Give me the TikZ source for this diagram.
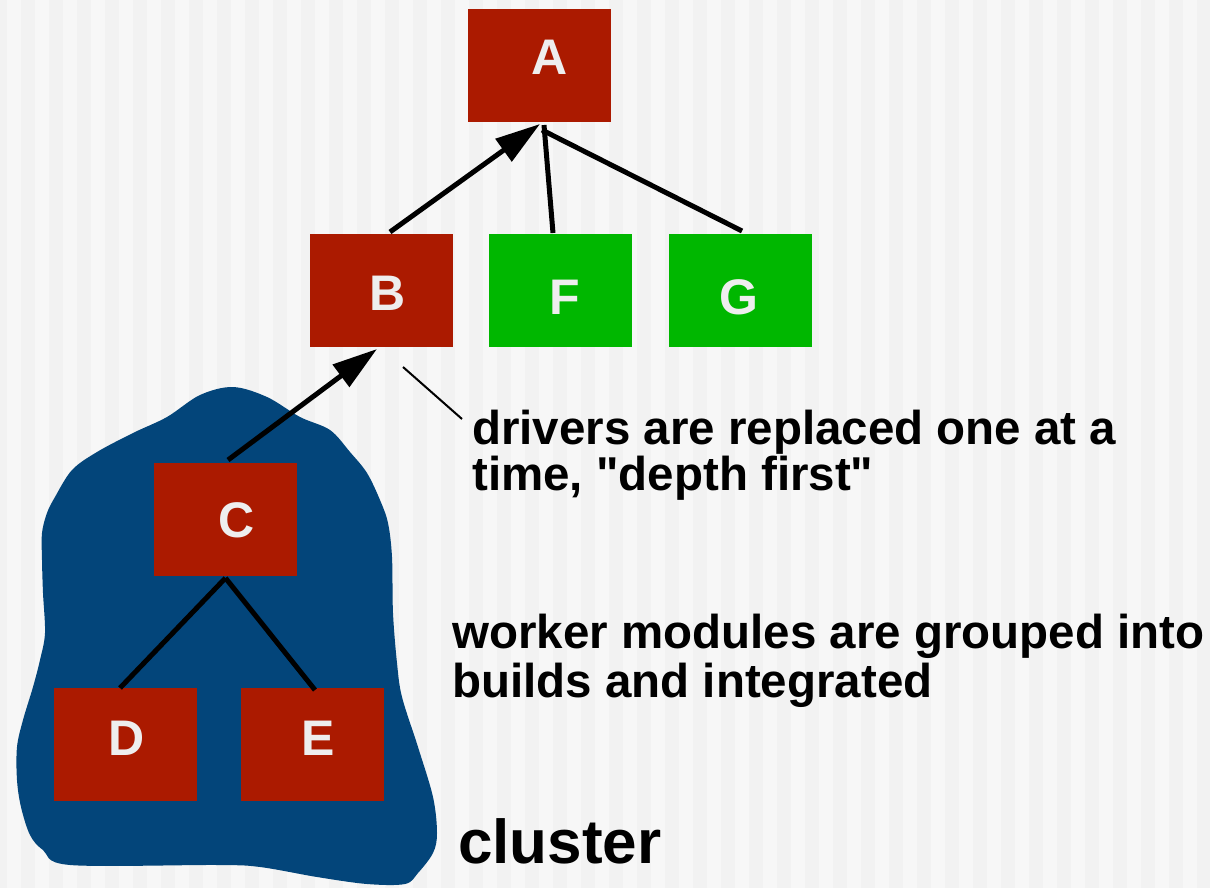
\documentclass[tikz,border=0pt]{standalone}
\usepackage{fontspec}
\setmainfont{Liberation Sans}
\usetikzlibrary{arrows.meta,calc}
\definecolor{boxred}{HTML}{AB1A00}
\definecolor{boxgreen}{HTML}{00B700}
\definecolor{blobblue}{HTML}{03457A}
\definecolor{stripeA}{HTML}{F2F2F2}
\definecolor{stripeB}{HTML}{F7F7F7}
\definecolor{labelwhite}{HTML}{EEEEEE}
\tikzset{
  modbox/.style={minimum width=143pt,minimum height=113pt,inner sep=0pt,outer sep=0pt},
  redbox/.style={modbox,fill=boxred},
  greenbox/.style={modbox,fill=boxgreen},
  boxlabel/.style={text=labelwhite,font=\bfseries\fontsize{50}{50}\selectfont,inner sep=0pt,anchor=center},
  link/.style={line width=5pt,draw=black},
  arrowlink/.style={link,-{Triangle[length=45pt,width=27pt]}},
  note/.style={font=\bfseries\fontsize{47.5}{47.5}\selectfont,align=left,inner sep=0pt,anchor=base west},
}
\begin{document}
\begin{tikzpicture}[x=1pt,y=-1pt]
\useasboundingbox (0,0) rectangle (1210,888);
\fill[stripeA] (0,0) rectangle (1210,888);
\foreach \i in {0,...,43} {\fill[stripeB] (28*\i+7,0) rectangle (28*\i+21,888);}
% cluster blob
\fill[blobblue] plot[smooth cycle,tension=0.55] coordinates {
 (233,387) (267,397) (300,417) (330,430) (350,452) (367,473) (380,500) (388,523)
 (392,557) (393,613) (397,663) (402,697) (418,747) (433,797) (437,833) (433,853)
 (418,873) (405,884) (367,884) (317,877) (260,867) (217,865) (70,865) (43,850)
 (30,835) (21,807) (17,780) (17,747) (23,720) (33,687) (40,660) (45,633) (43,593)
 (42,560) (42,533) (47,513) (55,497) (72,470) (97,452) (133,433) (167,417)
 (200,395)};
% boxes
\node[redbox] (A) at (539.5,65.5) {};
\node[redbox] (B) at (381.5,290.5) {};
\node[greenbox] (F) at (560.5,290.5) {};
\node[greenbox] (G) at (740.5,290.5) {};
\node[redbox] (C) at (225.5,519.5) {};
\node[redbox] (D) at (125.5,744.5) {};
\node[redbox] (E) at (312.5,744.5) {};
% box labels
\node[boxlabel] (lA) at (550,57) {A};
\node[boxlabel] (lB) at (388,293) {B};
\node[boxlabel] (lF) at (565,297) {F};
\node[boxlabel] (lG) at (739,297) {G};
\node[boxlabel] (lC) at (237,520) {C};
\node[boxlabel] (lD) at (127,738) {D};
\node[boxlabel] (lE) at (318,738) {E};
% connectors
\draw[arrowlink] ($(B.north)+(8.5,-2)$) -- ($(A.south)+(0.5,2)$);
\draw[link] ($(F.north)+(-7.5,-1)$) -- ($(A.south)+(4.5,3)$);
\draw[link] ($(G.north)+(1.5,-3)$) -- ($(A.south)+(2.5,8)$);
\draw[arrowlink] ($(C.north)+(2.5,-3)$) -- ($(B.south)+(-4.5,2)$);
\draw[link] ($(C.south)+(0,2)$) -- ($(D.north)+(-5.5,0)$);
\draw[link] ($(C.south)+(0,2)$) -- ($(E.north)+(2.5,2)$);
% notes
\node[note] (n1) at (472,490) {drivers are replaced one at a\\[-2pt]time, \textquotedbl depth first\textquotedbl};
\coordinate (n1p) at (462,419);
\draw[line width=2pt] ($(B.south)+(21.5,20)$) -- (n1p);
\node[note] (n2) at (452,697) {worker modules are grouped into\\[1.5pt]builds and integrated};
\node[font=\bfseries\fontsize{62}{62}\selectfont,inner sep=0pt,anchor=base west] (cl) at (458,863) {cluster};
\end{tikzpicture}
\end{document}
